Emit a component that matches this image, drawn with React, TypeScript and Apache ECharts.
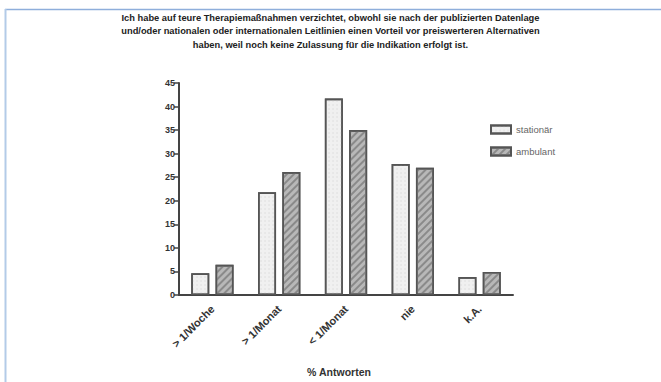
import React, { useEffect, useRef } from "react";
import * as echarts from "echarts";

const titleLines = [
  "Ich habe auf teure Therapiemaßnahmen verzichtet, obwohl sie nach der publizierten Datenlage",
  "und/oder nationalen oder internationalen Leitlinien einen Vorteil vor preiswerteren Alternativen",
  "haben, weil noch keine Zulassung für die Indikation erfolgt ist.",
];
const categories = ["> 1/Woche", "> 1/Monat", "< 1/Monat", "nie", "k.A."];
const stationaer = [4.6, 21.8, 41.7, 27.8, 3.8];
const ambulant = [6.4, 26.1, 35.0, 27.0, 4.9];
const seriesNames = ["stationär", "ambulant"];
const xAxisTitle = "% Antworten";

export default function App() {
  const ref = useRef<HTMLDivElement>(null);
  useEffect(() => {
    if (!ref.current) return;
    const chart = echarts.init(ref.current, undefined, { renderer: "svg" });
    const font = "Liberation Sans, Arial, sans-serif";
    chart.setOption({
      animation: false,
      backgroundColor: "#ffffff",
      title: {
        text: titleLines.join("\n"),
        left: "center",
        top: 6,
        textStyle: {
          fontSize: 9.3,
          fontWeight: "bold",
          color: "#222",
          lineHeight: 13.5,
          fontFamily: font,
        },
      },
      legend: {
        orient: "vertical",
        left: 485,
        top: 119,
        itemWidth: 20,
        itemHeight: 8,
        itemGap: 11,
        icon: "rect",
        data: seriesNames,
        textStyle: { fontSize: 9.5, color: "#666", lineHeight: 11, fontFamily: font },
      },
      grid: { left: 179, right: 148, top: 83, bottom: 76, containLabel: false },
      xAxis: {
        type: "category",
        data: categories,
        name: xAxisTitle,
        nameLocation: "middle",
        nameGap: 71,
        nameTextStyle: {
          fontSize: 10.5,
          fontWeight: "bold",
          color: "#333",
          fontFamily: font,
          padding: [0, 14, 0, 0],
        },
        axisLine: { lineStyle: { color: "#444", width: 2 } },
        axisTick: { show: false },
        axisLabel: {
          rotate: 45,
          fontSize: 11,
          fontWeight: "bold",
          color: "#333",
          margin: 12,
          fontFamily: font,
        },
      },
      yAxis: {
        type: "value",
        min: 0,
        max: 45,
        interval: 5,
        axisLine: { show: true, lineStyle: { color: "#444", width: 2 } },
        axisTick: { show: true, length: 5, lineStyle: { color: "#444", width: 1.5 } },
        splitLine: { show: false },
        axisLabel: { fontSize: 9, fontWeight: "bold", color: "#333", margin: 4, fontFamily: font },
      },
      series: [
        {
          name: seriesNames[0],
          type: "bar",
          data: stationaer,
          barWidth: 18,
          barGap: "35%",
          itemStyle: {
            color: "#f0f0f0",
            borderColor: "#555",
            borderWidth: 1.6,
            decal: {
              symbol: "rect",
              symbolSize: 0.6,
              dashArrayX: [2, 2],
              dashArrayY: [2, 2],
              color: "#d4d4d4",
              rotation: 0,
            },
          },
        },
        {
          name: seriesNames[1],
          type: "bar",
          data: ambulant,
          barWidth: 18,
          itemStyle: {
            color: "#b8b8b8",
            borderColor: "#555",
            borderWidth: 1.6,
            decal: {
              symbol: "rect",
              symbolSize: 1,
              dashArrayX: [1, 0],
              dashArrayY: [1.5, 2.5],
              rotation: -Math.PI / 4,
              color: "#8a8a8a",
            },
          },
        },
      ],
      graphic: [
        {
          type: "line",
          shape: { x1: 5, y1: 9.5, x2: 661, y2: 9.5 },
          style: { stroke: "#8eaedb", lineWidth: 1.5 },
        },
        {
          type: "line",
          shape: { x1: 5.5, y1: 9, x2: 5.5, y2: 382 },
          style: { stroke: "#b3cbe8", lineWidth: 2 },
        },
      ],
    });
    return () => chart.dispose();
  }, []);
  return (
    <div
      ref={ref}
      style={{ position: "fixed", left: 0, top: 0, width: 661, height: 382, background: "#fff" }}
    />
  );
}
